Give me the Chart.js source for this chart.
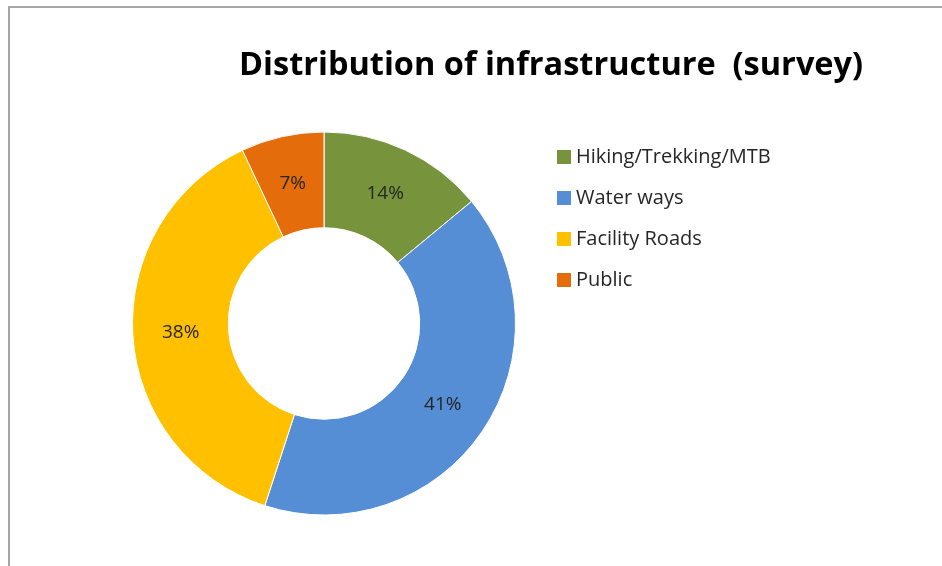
<!DOCTYPE html>
<html>
<head>
<meta charset="utf-8">
<title>Distribution of infrastructure (survey)</title>
<script src="https://cdn.jsdelivr.net/npm/chart.js@4"></script>
<style>
  html, body { margin:0; padding:0; background:#fff; }
  #wrap { position:relative; width:942px; height:566px; overflow:hidden; }
  #frame { position:absolute; left:8px; top:6px; width:940px; height:600px; border:2px solid #a6a6a6; box-sizing:border-box; }
  canvas { position:absolute; left:0; top:0; }
</style>
</head>
<body>
<div id="wrap">
  <div id="frame"></div>
  <canvas id="chart" width="942" height="566"></canvas>
</div>
<script>
// ---- Data ----
const TITLE = 'Distribution of infrastructure  (survey)';
const categories = ['Hiking/Trekking/MTB', 'Water ways', 'Facility Roads', 'Public'];
const shares = [14, 41, 38, 7];
const colors = ['#77933C', '#558ED5', '#FFC000', '#E46C0A'];

const FONT = '"Open Sans", "DejaVu Sans", sans-serif';

// title, legend and % labels are drawn by hand so the doughnut keeps its place
const decorations = {
  id: 'decorations',
  afterDatasetsDraw(chart){
    const ctx = chart.ctx;
    ctx.save();

    // percent labels in the middle of each ring segment
    const meta = chart.getDatasetMeta(0);
    const total = shares.reduce((a,b)=>a+b, 0);
    ctx.font = `19px ${FONT}`;
    ctx.fillStyle = '#262626';
    ctx.textAlign = 'center';
    ctx.textBaseline = 'middle';
    meta.data.forEach((arc, i)=>{
      const p = arc.tooltipPosition();
      ctx.fillText(Math.round(shares[i] / total * 100) + '%', p.x, p.y);
    });

    // title
    ctx.font = `bold 32.5px ${FONT}`;
    ctx.fillStyle = '#000';
    ctx.textAlign = 'left';
    ctx.textBaseline = 'alphabetic';
    ctx.fillText(TITLE, 239, 75);

    // legend
    ctx.font = `20px ${FONT}`;
    ctx.textBaseline = 'middle';
    categories.forEach((name, i)=>{
      const y = 157 + i * 41;
      ctx.fillStyle = colors[i];
      ctx.fillRect(557, y - 7, 14, 14);
      ctx.fillStyle = '#262626';
      ctx.fillText(name, 576, y);
    });
    ctx.restore();
  }
};

new Chart(document.getElementById('chart'), {
  type: 'doughnut',
  data: {
    labels: categories,
    datasets: [{
      data: shares,
      backgroundColor: colors,
      borderColor: '#ffffff',
      borderWidth: 1,
      hoverOffset: 0
    }]
  },
  options: {
    responsive: false,
    animation: false,
    cutout: '50%',
    layout: { padding: { left: 132, right: 426, top: 131, bottom: 50 } },
    plugins: { legend: { display: false }, tooltip: { enabled: false }, title: { display: false } }
  },
  plugins: [decorations]
});
</script>
</body>
</html>
